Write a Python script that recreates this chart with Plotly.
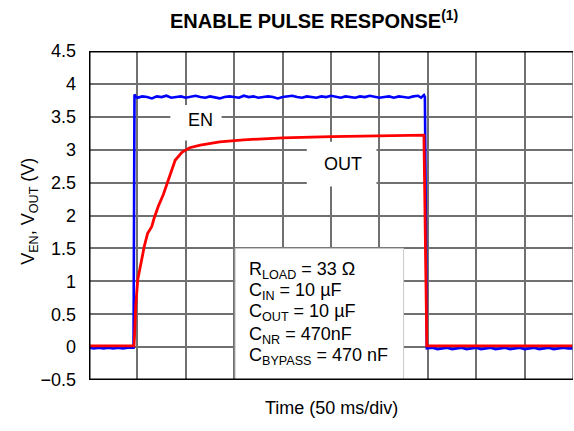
import plotly.graph_objects as go

# Enable (blue) trace: time in ms, voltage in V
en_t = [0, 5, 10, 15, 20, 25, 30, 35, 40, 45, 46,
        47, 48, 50, 55, 60, 65, 70, 75, 80, 85, 90, 95, 100, 105, 110, 115,
        120, 125, 130, 135, 140, 145, 150, 155, 160, 165, 170, 175, 180, 185,
        190, 195, 200, 205, 210, 215, 220, 225, 230, 235, 240, 245, 250, 255,
        260, 265, 270, 275, 280, 285, 290, 295, 300, 305, 310, 315, 320, 325,
        330, 335, 340, 343, 346, 347,
        349, 355, 360, 365, 370, 375, 380, 385, 390, 395, 400, 405, 410, 415,
        420, 425, 430, 435, 440, 445, 450, 455, 460, 465, 470, 475, 480, 485,
        490, 495, 500]
en_v = [-0.01, -0.02, -0.01, -0.02, -0.01, -0.02, -0.01, -0.02, -0.01, -0.01, -0.01,
        3.84, 3.81, 3.79, 3.81, 3.80, 3.78, 3.81, 3.80, 3.82, 3.79, 3.80, 3.81, 3.79,
        3.80, 3.82, 3.80, 3.79, 3.81, 3.80, 3.78, 3.80, 3.81, 3.80, 3.79, 3.82, 3.80,
        3.81, 3.79, 3.80, 3.81, 3.80, 3.78, 3.80, 3.81, 3.82, 3.80, 3.79, 3.81, 3.80,
        3.79, 3.81, 3.80, 3.82, 3.80, 3.79, 3.81, 3.80, 3.79, 3.81, 3.80, 3.82, 3.81,
        3.79, 3.80, 3.81, 3.79, 3.81, 3.80, 3.79, 3.81, 3.82, 3.79, 3.83, 3.80,
        -0.02, -0.01, -0.03, -0.02, -0.01, -0.03, -0.02, -0.01, -0.03, -0.02, -0.01,
        -0.03, -0.02, -0.01, -0.03, -0.02, -0.01, -0.03, -0.02, -0.01, -0.03, -0.02,
        -0.01, -0.03, -0.02, -0.01, -0.03, -0.02, -0.01, -0.02, -0.02]

# Output (red) trace
out_t = [0, 10, 20, 30, 40, 46.5, 47, 48.2, 50.3, 53.4, 57.1, 60.6, 64.8, 67.1,
         71.6, 76.8, 81.9, 89, 96, 104, 115, 135, 160, 200, 250, 300, 346,
         349, 360, 380, 400, 420, 440, 460, 480, 500]
out_v = [0.02, 0.02, 0.02, 0.02, 0.02, 0.02, 0.16, 0.61, 1.02, 1.28, 1.53, 1.73,
         1.83, 1.95, 2.14, 2.32, 2.55, 2.84, 2.96, 3.03, 3.07, 3.12, 3.15, 3.18,
         3.20, 3.21, 3.22, 0.02, 0.02, 0.02, 0.02, 0.02, 0.02, 0.02, 0.02, 0.02]

y_ticks = [-0.5, 0, 0.5, 1, 1.5, 2, 2.5, 3, 3.5, 4, 4.5]
y_labels = ["\u22120.5", "0", "0.5", "1", "1.5", "2", "2.5", "3", "3.5", "4", "4.5"]

conditions = [
    "R<sub>LOAD</sub> = 33 \u03a9",
    "C<sub>IN</sub> = 10 \u00b5F",
    "C<sub>OUT</sub> = 10 \u00b5F",
    "C<sub>NR</sub> = 470nF",
    "C<sub>BYPASS</sub> = 470 nF",
]
condition_y = [1.17, 0.84, 0.52, 0.18, -0.15]

FONT = "Liberation Sans, Arial, Helvetica, sans-serif"
GRID = "#707070"

fig = go.Figure()
fig.add_trace(go.Scatter(x=en_t, y=en_v, mode="lines",
                         line=dict(color="#0000ff", width=2.6), hoverinfo="skip"))
fig.add_trace(go.Scatter(x=out_t, y=out_v, mode="lines",
                         line=dict(color="#ff0000", width=2.8), hoverinfo="skip"))

shapes = []
# white label patches over the grid
shapes.append(dict(type="rect", xref="x", yref="y", x0=84, x1=137, y0=3.14, y1=3.68,
                   fillcolor="white", line=dict(width=0), layer="between"))
shapes.append(dict(type="rect", xref="x", yref="y", x0=225, x1=297, y0=2.44, y1=3.12,
                   fillcolor="white", line=dict(width=0), layer="between"))
# conditions box
shapes.append(dict(type="rect", xref="x", yref="y", x0=151, x1=325, y0=-0.5, y1=1.5,
                   fillcolor="white", line=dict(color="#c8c8c8", width=1), layer="between"))
# frame: right edge grey, others heavy black
shapes.append(dict(type="line", xref="x", yref="y", x0=500, x1=500, y0=-0.5, y1=4.5,
                   line=dict(color=GRID, width=1.5)))
shapes.append(dict(type="line", xref="x", yref="y", x0=0, x1=500, y0=4.5, y1=4.5,
                   line=dict(color="black", width=3)))
shapes.append(dict(type="line", xref="x", yref="y", x0=0, x1=500, y0=-0.5, y1=-0.5,
                   line=dict(color="black", width=3)))
shapes.append(dict(type="line", xref="x", yref="y", x0=0, x1=0, y0=-0.5, y1=4.5,
                   line=dict(color="black", width=3)))

annotations = [
    dict(x=115, y=3.45, xref="x", yref="y", text="EN", showarrow=False,
         font=dict(size=18, color="black", family=FONT)),
    dict(x=262, y=2.79, xref="x", yref="y", text="OUT", showarrow=False,
         font=dict(size=18, color="black", family=FONT)),
    dict(x=0.163, y=1.0, xref="paper", yref="paper", yshift=32, xanchor="left",
         yanchor="middle", text="<b>ENABLE PULSE RESPONSE<sup>(1)</sup></b>",
         showarrow=False, font=dict(size=20, color="black", family=FONT)),
    dict(x=0.5, y=-0.122, xref="paper", yref="paper", text="Time (50 ms/div)",
         showarrow=False, font=dict(size=18, color="black", family=FONT)),
    dict(x=-0.15, y=0.514, xref="paper", yref="paper", textangle=-90,
         text="V<sub>EN</sub>, V<sub>OUT</sub> (V)", showarrow=False,
         font=dict(size=18, color="black", family=FONT)),
]
for txt, yy in zip(conditions, condition_y):
    annotations.append(dict(x=163, y=yy, xref="x", yref="y", xanchor="left",
                            yanchor="middle", text=txt, showarrow=False,
                            font=dict(size=18, color="black", family=FONT)))

fig.update_layout(
    width=574, height=431,
    margin=dict(l=89, r=1, t=51, b=51),
    paper_bgcolor="white", plot_bgcolor="white",
    showlegend=False,
    shapes=shapes,
    annotations=annotations,
    xaxis=dict(range=[0, 500], dtick=50, tick0=0, showticklabels=False,
               showgrid=True, gridcolor=GRID, gridwidth=1.5, zeroline=False,
               showline=False, fixedrange=True),
    yaxis=dict(range=[-0.5, 4.5], tickvals=y_ticks, ticktext=y_labels,
               showgrid=True, gridcolor=GRID, gridwidth=1.5, zeroline=False,
               showline=False, ticks="", ticklabelstandoff=12,
               tickfont=dict(size=18, color="black", family=FONT), fixedrange=True),
)

fig.write_html("out.html")
